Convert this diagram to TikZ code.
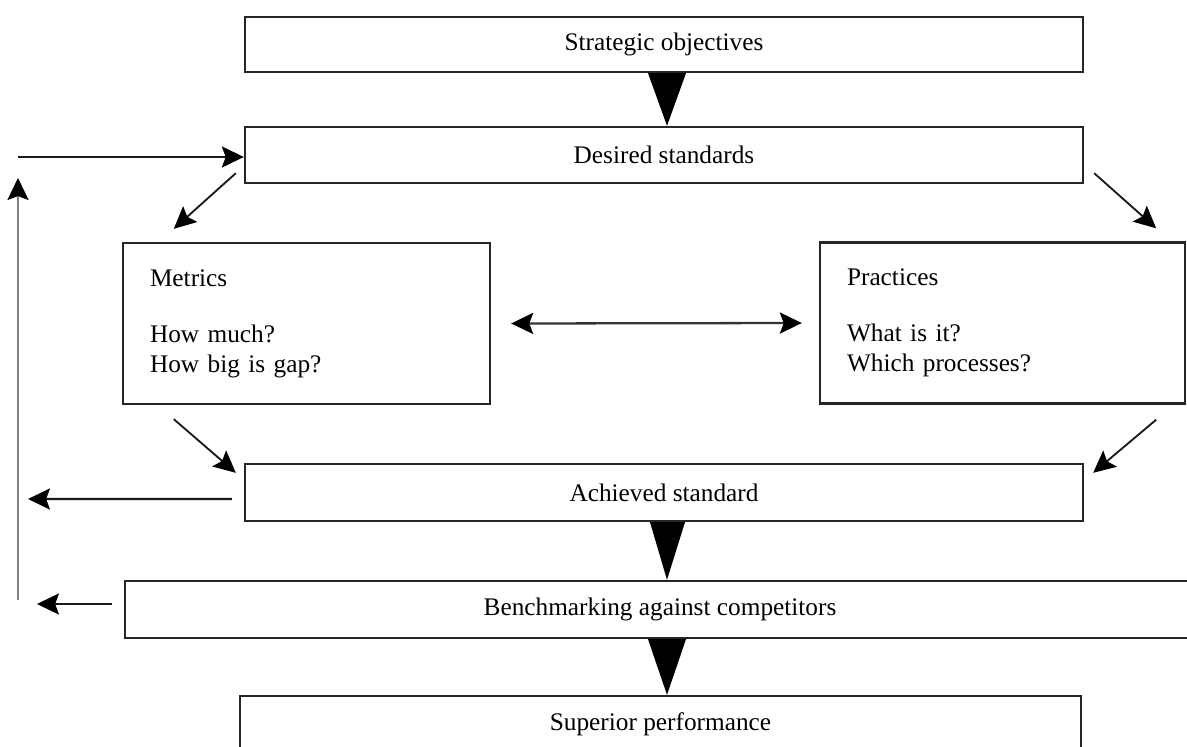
\documentclass[tikz,border=0pt]{standalone}
\usepackage{fontspec}
\setmainfont{Liberation Serif}
\usetikzlibrary{arrows.meta,calc}
\def\pxu{0.02cm}
\begin{document}
\begin{tikzpicture}[x=0.02cm,y=-0.02cm,
  box/.style={draw=black!85, line width=1.35pt, fill=white, inner sep=0pt,
    font=\fontsize{14.4}{17}\selectfont},
  listbox/.style={box, align=left, inner xsep=27*\pxu, minimum height=161*\pxu},
  head/.tip={Stealth[length=12.5pt,width=12pt,inset=2.2pt,color=black]},
  tip/.style={-head},
  link/.style={tip, draw=black!90, line width=1.3pt},
  slant/.style={tip, draw=black!90, line width=1.05pt},
  twoway/.style={head-head, draw=black!80, line width=1.3pt},
  wedge/.style={fill=black},
]
\useasboundingbox (0,0) rectangle (1187,747);
\fill[white] (0,0) rectangle (1187,747);
\clip (0,0) rectangle (1187,747);

% main column of boxes
\node[box, minimum width=838*\pxu, minimum height=55*\pxu] (strat) at (664,44.5) {Strategic objectives};
\node[box, minimum width=838*\pxu, minimum height=56*\pxu] (desired) at (664,155) {Desired standards};
\node[listbox, text width=313*\pxu] (metrics) at (306.5,323.5)
  {Metrics\\[15pt]How much?\\How big is gap?};
\node[listbox, text width=311*\pxu] (practices) at (1002.5,323)
  {Practices\\[15pt]What is it?\\Which processes?};
\node[box, minimum width=838*\pxu, minimum height=57*\pxu] (achieved) at (664,492.5) {Achieved standard};
\node[box, minimum width=1070*\pxu, minimum height=57*\pxu] (bench) at (660,609.5) {Benchmarking against competitors};
\node[box, minimum width=841*\pxu, minimum height=56*\pxu] (superior) at (660.5,724) {Superior performance};

% solid wedges between stacked boxes
\fill[wedge] ($(strat.south)+(-16,0)$) -- ($(strat.south)+(22,0)$) -- ($(desired.north)+(3,0)$) -- cycle;
\fill[wedge] ($(achieved.south)+(-14,0)$) -- ($(achieved.south)+(21,0)$) -- ($(bench.north)+(7,0)$) -- cycle;
\fill[wedge] ($(bench.south)+(-12,0)$) -- ($(bench.south)+(26,0)$) -- ($(superior.north)+(6.5,0)$) -- cycle;

% feedback loop on the left
\coordinate (loopin) at (18,157);
\coordinate (loopbot) at (18,600);
\coordinate (looptop) at (18,178);
\coordinate (outA) at (28,499);
\coordinate (outB) at (37,604);
\draw[link] (loopin) -- (loopin -| desired.west);
\draw[tip, draw=black!50, line width=1.5pt] (loopbot) -- (looptop);
\draw[link] ($(achieved.west)+(-12,6.5)$) -- (outA);
\draw[link] ($(bench.west)+(-12,-5.5)$) -- (outB);

% diagonal links
\draw[slant] ($(desired.south west)+(-8,-11)$) -- ($(metrics.north west)+(52,-13)$);
\draw[slant] ($(desired.south east)+(10,-11)$) -- ($(practices.north east)+(-30,-13)$);
\draw[slant] ($(metrics.south west)+(52,14)$) -- ($(achieved.north west)+(-8,10)$);
\draw[slant] ($(practices.south east)+(-30,15)$) -- ($(achieved.north east)+(9,10)$);

% two-way link between metrics and practices
\draw[twoway] ($(metrics.east)+(20,0)$) -- ($(practices.west)+(-17,0)$);
\end{tikzpicture}
\end{document}
